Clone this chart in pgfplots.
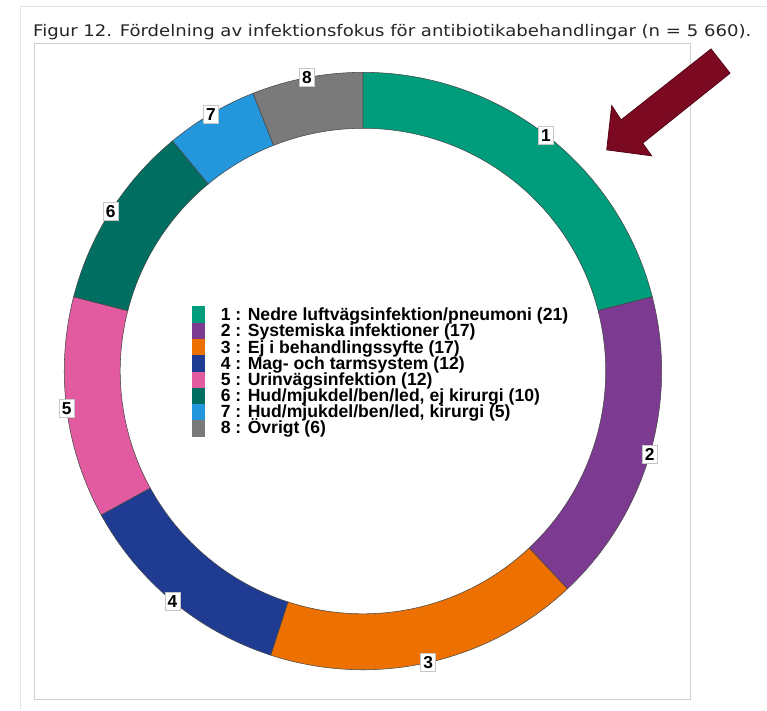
\documentclass[border=0pt]{standalone}
\usepackage{pgfplots}
\pgfplotsset{compat=1.18}
\usepackage{pgfplotstable}
\usepackage{graphicx}
\usepackage{fontspec}
\setmainfont{Liberation Sans}
\newfontfamily\titlefont{DejaVu Sans}

\definecolor{c1}{RGB}{0,157,125}
\definecolor{c2}{RGB}{124,58,145}
\definecolor{c3}{RGB}{237,113,0}
\definecolor{c4}{RGB}{32,59,146}
\definecolor{c5}{RGB}{226,90,160}
\definecolor{c6}{RGB}{0,110,96}
\definecolor{c7}{RGB}{36,151,220}
\definecolor{c8}{RGB}{122,122,122}
\definecolor{segline}{RGB}{70,70,70}
\definecolor{arrowred}{RGB}{122,9,33}
\definecolor{arrowedge}{RGB}{85,6,22}

\pgfplotstableread{
id share col name
1 21 c1 {Nedre luftvägsinfektion/pneumoni}
2 17 c2 {Systemiska infektioner}
3 17 c3 {Ej i behandlingssyfte}
4 12 c4 {Mag- och tarmsystem}
5 12 c5 {Urinvägsinfektion}
6 10 c6 {Hud/mjukdel/ben/led, ej kirurgi}
7 5 c7 {Hud/mjukdel/ben/led, kirurgi}
8 6 c8 {Övrigt}
}\donut

\newcommand\legfont{\bfseries\fontsize{13.2}{13.2}\selectfont}
\tikzset{lbl/.style={fill=white, draw=gray!45, line width=0.4pt, inner sep=2pt,
    font=\bfseries\fontsize{13}{13}\selectfont, text height=9.4pt, text depth=0pt}}

\begin{document}
\begin{tikzpicture}
\begin{axis}[
  at={(0,0)}, anchor=south west,
  scale only axis, width=575.25pt, height=532.5pt,
  xmin=0, xmax=767, ymin=0, ymax=710,
  hide axis, clip=false,
]
\path (axis cs:0,0) rectangle (axis cs:767,710);
% frames
\draw[gray!22, line width=1.1pt] (axis cs:20.7,0) -- (axis cs:20.7,703.3) -- (axis cs:767,703.3);
\draw[gray!38, line width=1.1pt] (axis cs:34.3,666.7) rectangle (axis cs:691,10);
% title
\node[anchor=base west, inner sep=0pt, text=black!85] at (axis cs:33,673.3)
  {\resizebox{539pt}{\height}{\titlefont\fontsize{12}{14}\selectfont Figur 12. Fördelning av infektionsfokus för antibiotikabehandlingar (n = 5 660).}};

\def\cx{363.3}\def\cy{338.6}
\def\Rout{224.25pt}\def\Rin{182.25pt}\def\Rw{42pt}
\pgfmathsetmacro\startang{90}
\pgfplotsforeachungrouped \i in {0,...,7}{%
  \pgfplotstablegetelem{\i}{share}\of\donut \let\sh\pgfplotsretval
  \pgfplotstablegetelem{\i}{col}\of\donut \let\cc\pgfplotsretval
  \pgfplotstablegetelem{\i}{id}\of\donut \let\idn\pgfplotsretval
  \pgfplotstablegetelem{\i}{name}\of\donut \let\nm\pgfplotsretval
  \pgfmathsetmacro\endang{\startang-3.6*\sh}
  \pgfmathsetmacro\rowtop{403.3-16.3*\i}
  \pgfmathsetmacro\rowbot{\rowtop-16.3}
  \pgfmathsetmacro\rowbase{389-16.2*\i}
  \edef\cmd{%
    \noexpand\filldraw[fill=\cc, draw=segline, line width=0.4pt]
      (axis cs:\cx,\cy) ++(\startang:\Rout)
      arc[start angle=\startang, end angle=\endang, radius=\Rout]
      -- ++(\endang+180:\Rw)
      arc[start angle=\endang, end angle=\startang, radius=\Rin] -- cycle;
    \noexpand\fill[\cc] (axis cs:191.7,\rowtop) rectangle (axis cs:205,\rowbot);
    \noexpand\node[anchor=base west, inner sep=0pt, font=\noexpand\legfont]
      at (axis cs:220.7,\rowbase)
      {\idn\space:\space\unexpanded\expandafter{\nm}\space(\sh)};
  }%
  \cmd
  \let\startang\endang
}
% number labels at the outer edge, mid angle of each segment
\pgfmathsetmacro\startang{90}
\pgfplotsforeachungrouped \i in {0,...,7}{%
  \pgfplotstablegetelem{\i}{share}\of\donut \let\sh\pgfplotsretval
  \pgfplotstablegetelem{\i}{id}\of\donut \let\idn\pgfplotsretval
  \pgfmathsetmacro\endang{\startang-3.6*\sh}
  \pgfmathsetmacro\midang{(\startang+\endang)/2}
  \pgfmathsetmacro\lx{\cx+299*cos(\midang)}
  \pgfmathsetmacro\ly{\cy+299*sin(\midang)}
  \edef\cmd{\noexpand\node[lbl] at (axis cs:\lx,\ly) {\idn};}%
  \cmd
  \let\startang\endang
}
% arrow
\filldraw[fill=arrowred, draw=arrowedge, line width=0.6pt]
  (axis cs:711.7,661) -- (axis cs:730.7,636.7) -- (axis cs:643.3,566.7)
  -- (axis cs:652.3,554) -- (axis cs:607.3,560) -- (axis cs:612.3,604.3)
  -- (axis cs:621.7,590) -- cycle;
\end{axis}
\end{tikzpicture}
\end{document}
